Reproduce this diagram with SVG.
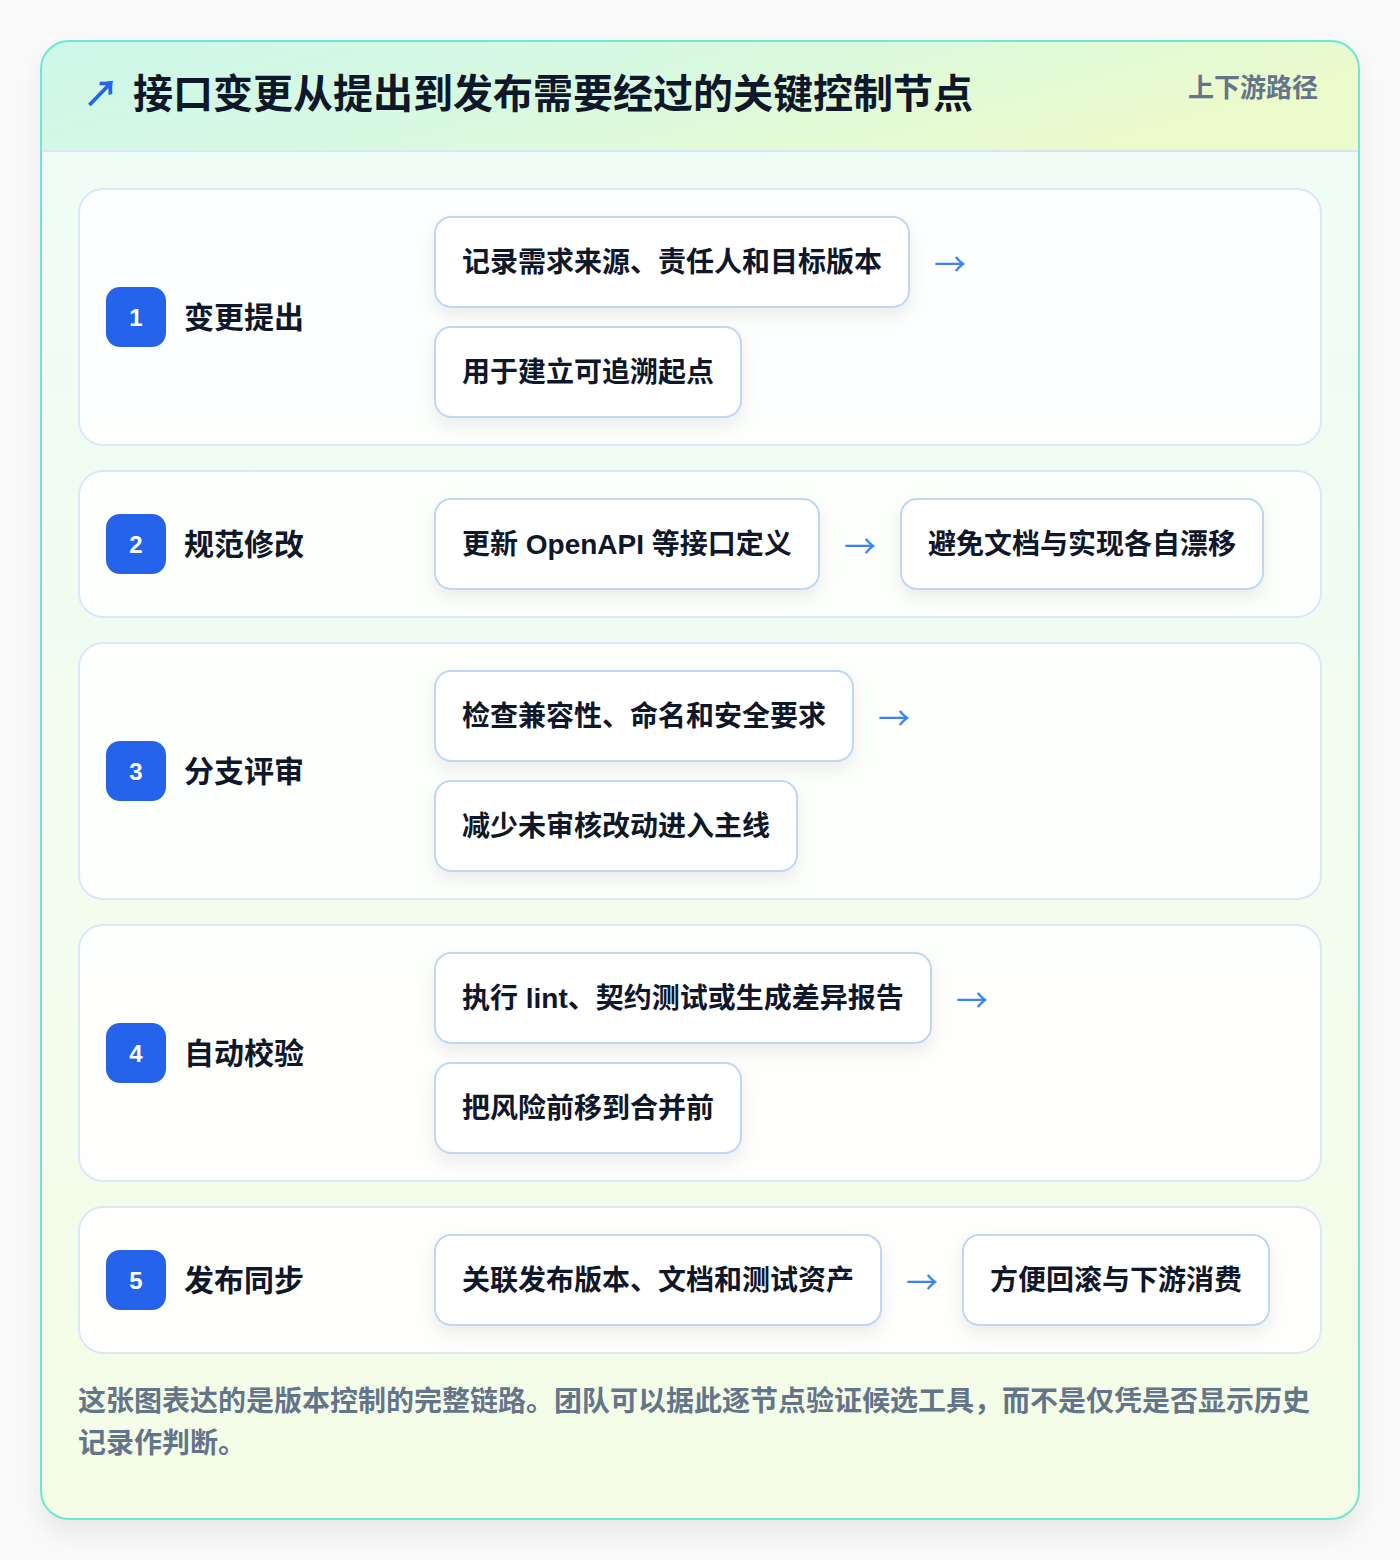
<svg xmlns="http://www.w3.org/2000/svg" width="1400" height="1560" viewBox="0 0 1400 1560">
<defs>
<linearGradient id="hdr" x1="0" y1="0" x2="1" y2="0.3">
<stop offset="0" stop-color="#cdf7ea"/>
<stop offset="0.5" stop-color="#d8f9e0"/>
<stop offset="1" stop-color="#ecfbcc"/>
</linearGradient>
<linearGradient id="body" x1="0" y1="0" x2="0" y2="1">
<stop offset="0" stop-color="#effcf7"/>
<stop offset="1" stop-color="#f5fde6"/>
</linearGradient>
<filter id="cardSh" x="-10%" y="-10%" width="120%" height="120%">
<feDropShadow dx="0" dy="14" stdDeviation="14" flood-color="#0f172a" flood-opacity="0.08"/>
</filter>
<filter id="boxSh" x="-10%" y="-20%" width="120%" height="150%">
<feDropShadow dx="0" dy="8" stdDeviation="8" flood-color="#0f172a" flood-opacity="0.07"/>
</filter>
<clipPath id="cardClip"><rect x="41" y="41" width="1318" height="1478" rx="28"/></clipPath>
</defs>
<style>
text{font-family:"Liberation Sans","Noto Sans CJK SC",sans-serif;}
.row{fill:#ffffff;fill-opacity:0.85;stroke:#dbe7fb;stroke-width:2;}
.box{fill:#ffffff;stroke:#bfd7f5;stroke-width:2;filter:url(#boxSh);}
.badge{fill:#2563eb;}
.num{fill:#ffffff;font-size:24px;font-weight:700;text-anchor:middle;dominant-baseline:central;}
.lbl{fill:#0f172a;font-size:30px;font-weight:700;dominant-baseline:central;}
.bt{fill:#0f172a;font-size:28px;font-weight:700;dominant-baseline:central;}
.arr{fill:#3b82f6;font-size:32px;font-family:"Noto Sans CJK SC",sans-serif;dominant-baseline:central;}
.foot{fill:#64748b;font-size:28px;font-weight:700;}
</style>
<rect width="1400" height="1560" fill="#fafafa"/>
<g id="card">
<rect x="41" y="41" width="1318" height="1478" rx="28" fill="url(#body)" filter="url(#cardSh)"/>
<g clip-path="url(#cardClip)">
<rect x="41" y="41" width="1318" height="110" fill="url(#hdr)"/>
<line x1="41" y1="151" x2="1359" y2="151" stroke="#d6e6f8" stroke-width="2"/>
</g>
<rect x="41" y="41" width="1318" height="1478" rx="28" fill="none" stroke="#6ee7d3" stroke-width="2"/>
<text x="83" y="107" fill="#2563eb" font-size="36" font-weight="700">↗</text>
<text x="133" y="108" fill="#0f172a" font-size="40" font-weight="700">接口变更从提出到发布需要经过的关键控制节点</text>
<text x="1318" y="97" fill="#64748b" font-size="26" font-weight="700" text-anchor="end">上下游路径</text>
</g>
<g id="step1">
<rect class="row" x="79" y="189" width="1242" height="256" rx="24"/>
<rect class="badge" x="106" y="287" width="60" height="60" rx="14"/>
<text class="num" x="136" y="317">1</text>
<text class="lbl" x="184" y="317">变更提出</text>
<g id="n1a"><rect class="box" x="435" y="217" width="474" height="90" rx="16"/><text class="bt" x="462" y="262">记录需求来源、责任人和目标版本</text></g>
<g id="n1b"><rect class="box" x="435" y="327" width="306" height="90" rx="16"/><text class="bt" x="462" y="372">用于建立可追溯起点</text></g>
</g>
<g id="step2">
<rect class="row" x="79" y="471" width="1242" height="146" rx="24"/>
<rect class="badge" x="106" y="514" width="60" height="60" rx="14"/>
<text class="num" x="136" y="544">2</text>
<text class="lbl" x="184" y="544">规范修改</text>
<g id="n2a"><rect class="box" x="435" y="499" width="384" height="90" rx="16"/><text class="bt" x="462" y="544">更新 OpenAPI 等接口定义</text></g>
<g id="n2b"><rect class="box" x="901" y="499" width="362" height="90" rx="16"/><text class="bt" x="928" y="544">避免文档与实现各自漂移</text></g>
</g>
<g id="step3">
<rect class="row" x="79" y="643" width="1242" height="256" rx="24"/>
<rect class="badge" x="106" y="741" width="60" height="60" rx="14"/>
<text class="num" x="136" y="771">3</text>
<text class="lbl" x="184" y="771">分支评审</text>
<g id="n3a"><rect class="box" x="435" y="671" width="418" height="90" rx="16"/><text class="bt" x="462" y="716">检查兼容性、命名和安全要求</text></g>
<g id="n3b"><rect class="box" x="435" y="781" width="362" height="90" rx="16"/><text class="bt" x="462" y="826">减少未审核改动进入主线</text></g>
</g>
<g id="step4">
<rect class="row" x="79" y="925" width="1242" height="256" rx="24"/>
<rect class="badge" x="106" y="1023" width="60" height="60" rx="14"/>
<text class="num" x="136" y="1053">4</text>
<text class="lbl" x="184" y="1053">自动校验</text>
<g id="n4a"><rect class="box" x="435" y="953" width="496" height="90" rx="16"/><text class="bt" x="462" y="998">执行 lint、契约测试或生成差异报告</text></g>
<g id="n4b"><rect class="box" x="435" y="1063" width="306" height="90" rx="16"/><text class="bt" x="462" y="1108">把风险前移到合并前</text></g>
</g>
<g id="step5">
<rect class="row" x="79" y="1207" width="1242" height="146" rx="24"/>
<rect class="badge" x="106" y="1250" width="60" height="60" rx="14"/>
<text class="num" x="136" y="1280">5</text>
<text class="lbl" x="184" y="1280">发布同步</text>
<g id="n5a"><rect class="box" x="435" y="1235" width="446" height="90" rx="16"/><text class="bt" x="462" y="1280">关联发布版本、文档和测试资产</text></g>
<g id="n5b"><rect class="box" x="963" y="1235" width="306" height="90" rx="16"/><text class="bt" x="990" y="1280">方便回滚与下游消费</text></g>
</g>
<g id="connectors">
<text class="arr" x="934" y="262">→</text>
<text class="arr" x="844" y="544">→</text>
<text class="arr" x="878" y="716">→</text>
<text class="arr" x="956" y="998">→</text>
<text class="arr" x="906" y="1280">→</text>
</g>
<g id="footer">
<text class="foot" x="78" y="1411">这张图表达的是版本控制的完整链路。团队可以据此逐节点验证候选工具，而不是仅凭是否显示历史</text>
<text class="foot" x="78" y="1453">记录作判断。</text>
</g>
</svg>
